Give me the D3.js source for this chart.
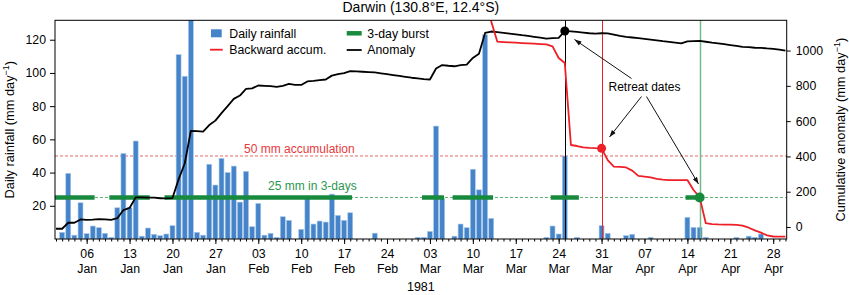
<!DOCTYPE html>
<html><head><meta charset="utf-8">
<script src="https://cdn.jsdelivr.net/npm/d3@7"></script>
<style>body{margin:0;background:#fff} text{font-family:"Liberation Sans",Arial,Helvetica,sans-serif}</style>
</head><body><svg id="c" width="849" height="295"></svg>
<script>
// ---------- data (day-of-year, 1981; Jan 1 = 1) ----------
const rainfall = [
  // Jan
  0,4,39.5,2.3,21.8,3.2,7.8,6.8,3.4,1,18.8,51.5,18.8,59,1.7,6.6,2.8,2,3,8,111,98,190,4,2.3,45,32.5,48.5,40,43.9,22.2,
  // Feb
  40.7,7.4,21.4,2.3,3.4,1,13.4,11.2,0,5.8,25,9,10.8,10.2,27,14.2,11.2,15.8,0,0,0,3.5,0,0,0,0,0,0,
  // Mar
  1,1,4.5,68,24.4,0,1.7,9,6.8,42,29.6,123,12.4,0,0,0,0,0,0,0,0,1,7.8,3,50,0,1,0,0,0,8,
  // Apr
  3.4,0,0,2,2.8,0,0,1,0,0,0,0,0,13,7,7,1,0,0,0,0,1,0,1.7,1,3,0,0,0,0
];
const anomaly = [
  -10,-10,24,24,43,40,42,45,43,40,50,96,108,168,168,167,166,163,162,164,
  270,360,545,543,541,578,603,645,685,726,745,783,786,802,800,798,794,800,811,806,
  805,825,828,832,836,858,866,872,884,882,880,878,876,871,866,861,856,851,846,842,
  838,836,898,918,914,911,918,920,958,982,1100,1108,1104,1100,1096,1092,1087,1083,1078,1073,
  1068,1071,1072,1111,1109,1106,1102,1098,1096,1098,1097,1090,1083,1078,1074,1070,1066,1062,1058,1053,
  1049,1045,1041,1052,1054,1055,1050,1045,1041,1036,1031,1026,1021,1019,1016,1015,1012,1010,1005,999
];
const accumStartDay = 71;
const backwardAccum = [
  254,131,118.8,118.6,118.4,118.2,118,117.8,117.6,117.4,117.2,116,109,106,56.6,56,55.2,54.9,54.7,54.6,
  47.5,43.6,43.4,43.1,41.2,38,37.6,37.1,36.2,35.8,35.5,35.5,35.5,35.5,29.5,25.2,9.5,9.0,8.8,8.7,
  8.6,8.5,8.0,6.8,5.2,3.8,2.2,1.5,1.4,1.4
];
const burstPeriods = [[1,7],[10,16],[19,49],[61,64],[66,72],[82,86],[104,106]];
const retreatAnomalyDay = 84, retreatAccumDay = 90, retreatBurstDay = 106;
const accumThreshold = 50, burstThreshold = 25;
const leftTicks = [20,40,60,80,100,120];
const rightTicks = [0,200,400,600,800,1000];
const weekTickDays = [6,13,20,27,34,41,48,55,62,69,76,83,90,97,104,111,118];

// ---------- setup ----------
const DAY = 864e5;
const day = d => new Date(Date.UTC(1981,0,d));
const shift = (d,f) => new Date(day(d).getTime() + f*DAY);
const L = 55, R = 786.7, T = 20.3, B = 239;
const svg = d3.select("#c");
const x = d3.scaleUtc().domain([shift(1,-0.163), shift(120,0.2)]).range([L,R]);
const yL = d3.scaleLinear().domain([0,131.7]).range([B,T]);
const yR = d3.scaleLinear().domain([-68,1171.5]).range([B,T]);

svg.append("defs").append("clipPath").attr("id","clip")
  .append("rect").attr("x",L).attr("y",T).attr("width",R-L).attr("height",B-T);
const defs = svg.select("defs");
defs.append("marker").attr("id","ah").attr("viewBox","0 0 10 10").attr("refX",10).attr("refY",5)
  .attr("markerWidth",7).attr("markerHeight",7).attr("orient","auto")
  .append("path").attr("d","M0,1.5 L10,5 L0,8.5 Z").attr("fill","#111");

const plot = svg.append("g").attr("clip-path","url(#clip)");

// threshold dashed lines
plot.append("line").attr("x1",L).attr("x2",R).attr("y1",yL(accumThreshold)).attr("y2",yL(accumThreshold))
  .attr("stroke","#e0403f").attr("stroke-width",0.8).attr("stroke-dasharray","3,2");
plot.append("line").attr("x1",L).attr("x2",R).attr("y1",yL(burstThreshold)).attr("y2",yL(burstThreshold))
  .attr("stroke","#3a9a55").attr("stroke-width",0.8).attr("stroke-dasharray","3,2");

// bars
const bw = x(day(2)) - x(day(1));
plot.selectAll("rect.bar").data(rainfall.map((v,i)=>({d:i+1,v}))).enter().append("rect")
  .attr("class","bar")
  .attr("x",p=>x(day(p.d))-bw*0.4).attr("width",bw*0.8)
  .attr("y",p=>yL(p.v)).attr("height",p=>Math.max(0,B-yL(p.v)))
  .attr("fill","#4584c9").attr("stroke","#a6c6ea").attr("stroke-width",0.6);

// vertical retreat lines
const vline = (d,c,w)=>plot.append("line").attr("x1",Math.round(x(day(d)))+0.5).attr("x2",Math.round(x(day(d)))+0.5)
  .attr("y1",T).attr("y2",B).attr("stroke",c).attr("stroke-width",w);
vline(retreatAnomalyDay,"#000",1);
vline(retreatAccumDay,"#f02020",1);
vline(retreatBurstDay,"#74bb88",1.5);

// burst segments
plot.selectAll("line.burst").data(burstPeriods).enter().append("line").attr("class","burst")
  .attr("x1",p=>x(shift(p[0],-0.3))).attr("x2",p=>x(shift(p[1],0.3)))
  .attr("y1",yL(burstThreshold)).attr("y2",yL(burstThreshold))
  .attr("stroke","#178a3e").attr("stroke-width",4.5);

// anomaly line (right axis)
plot.append("path").datum(anomaly.map((v,i)=>({d:i+1,v})))
  .attr("fill","none").attr("stroke","#000").attr("stroke-width",1.8).attr("stroke-linejoin","round")
  .attr("d",d3.line().x(p=>x(day(p.d))).y(p=>yR(p.v)));

// backward accumulation (left axis)
plot.append("path").datum(backwardAccum.map((v,i)=>({d:accumStartDay+i,v})))
  .attr("fill","none").attr("stroke","#ee1f26").attr("stroke-width",1.8).attr("stroke-linejoin","round")
  .attr("d",d3.line().x(p=>x(day(p.d))).y(p=>yL(p.v)));

// dots
svg.append("circle").attr("cx",x(day(retreatAnomalyDay))).attr("cy",yR(anomaly[retreatAnomalyDay-1])).attr("r",4.5).attr("fill","#000");
svg.append("circle").attr("cx",x(day(retreatAccumDay))).attr("cy",yL(backwardAccum[retreatAccumDay-accumStartDay])).attr("r",4.5).attr("fill","#ee1f26");
svg.append("circle").attr("cx",x(day(retreatBurstDay))).attr("cy",yL(burstThreshold)).attr("r",5).attr("fill","#178a3e");

// threshold labels
svg.append("text").attr("x",244).attr("y",153).attr("font-size",12).attr("fill","#e8383d").text("50 mm accumulation");
svg.append("text").attr("x",268).attr("y",190).attr("font-size",12).attr("fill","#2a9650").text("25 mm in 3-days");

// annotation
svg.append("text").attr("x",644.5).attr("y",90.5).attr("text-anchor","middle").attr("font-size",12).text("Retreat dates");
const arr = (x1,y1,x2,y2)=>svg.append("line").attr("x1",x1).attr("y1",y1).attr("x2",x2).attr("y2",y2)
  .attr("stroke","#111").attr("stroke-width",1).attr("marker-end","url(#ah)");
arr(631.5,78.5,574.5,39.5);
arr(641.5,96.5,609.5,137);
arr(646.5,96.5,698.5,184);

// frame
svg.append("rect").attr("x",L).attr("y",T).attr("width",R-L).attr("height",B-T)
  .attr("fill","none").attr("stroke","#000").attr("stroke-width",1);

// axes
const gl = svg.append("g").attr("transform",`translate(${L},0)`)
  .call(d3.axisLeft(yL).tickValues(leftTicks).tickSize(5).tickPadding(4));
const gr = svg.append("g").attr("transform",`translate(${R},0)`)
  .call(d3.axisRight(yR).tickValues(rightTicks).tickSize(4).tickPadding(5).tickFormat(d3.format("d")));
const gm = svg.append("g").attr("transform",`translate(0,${B})`)
  .call(d3.axisBottom(x).tickValues(d3.range(1,121).map(day)).tickSize(2.5).tickFormat(""));
const fd = d3.utcFormat("%d"), fm = d3.utcFormat("%b");
const gx = svg.append("g").attr("transform",`translate(0,${B})`)
  .call(d3.axisBottom(x).tickValues(weekTickDays.map(day)).tickSize(5).tickFormat(fd));
gx.selectAll(".tick text").each(function(d){
  const t = d3.select(this); t.text(null).attr("y",null).attr("dy",null);
  t.append("tspan").attr("x",0).attr("y",18.5).text(fd(d));
  t.append("tspan").attr("x",0).attr("y",33.5).text(fm(d));
});
[gl,gr,gm,gx].forEach(g=>{
  g.select(".domain").remove();
  g.selectAll("text").attr("font-size",12.3).attr("fill","#000").attr("font-family",'"Liberation Sans",Arial,sans-serif');
  g.selectAll("line").attr("stroke","#000");
});

// titles / labels
svg.append("text").attr("x",(L+R)/2).attr("y",12).attr("text-anchor","middle").attr("font-size",14).text("Darwin (130.8°E, 12.4°S)");
svg.append("text").attr("x",(L+R)/2).attr("y",291).attr("text-anchor","middle").attr("font-size",12.5).text("1981");
const yl = svg.append("text").attr("transform",`translate(13.5,${(T+B)/2}) rotate(-90)`).attr("text-anchor","middle").attr("font-size",12.8);
yl.append("tspan").text("Daily rainfall (mm day");
yl.append("tspan").attr("dy",-5).attr("font-size",9).text("−1");
yl.append("tspan").attr("dy",5).text(")");
const yr = svg.append("text").attr("transform",`translate(845,${(T+B)/2}) rotate(-90)`).attr("text-anchor","middle").attr("font-size",12.8);
yr.append("tspan").text("Cumulative anomaly (mm day");
yr.append("tspan").attr("dy",-5).attr("font-size",9).text("−1");
yr.append("tspan").attr("dy",5).text(")");

// legend
const lg = svg.append("g");
lg.append("rect").attr("x",211).attr("y",29.3).attr("width",10.7).attr("height",8).attr("fill","#4584c9");
lg.append("text").attr("x",229.3).attr("y",37.6).attr("font-size",12.3).text("Daily rainfall");
lg.append("line").attr("x1",210).attr("x2",222.7).attr("y1",49.7).attr("y2",49.7).attr("stroke","#ee1f26").attr("stroke-width",1.8);
lg.append("text").attr("x",229.3).attr("y",53.8).attr("font-size",12.3).text("Backward accum.");
lg.append("line").attr("x1",346.7).attr("x2",361.7).attr("y1",33.3).attr("y2",33.3).attr("stroke","#178a3e").attr("stroke-width",4.5);
lg.append("text").attr("x",367.3).attr("y",37.6).attr("font-size",12.3).text("3-day burst");
lg.append("line").attr("x1",346.7).attr("x2",361.7).attr("y1",50).attr("y2",50).attr("stroke","#000").attr("stroke-width",1.8);
lg.append("text").attr("x",367.3).attr("y",53.8).attr("font-size",12.3).text("Anomaly");
</script></body></html>
